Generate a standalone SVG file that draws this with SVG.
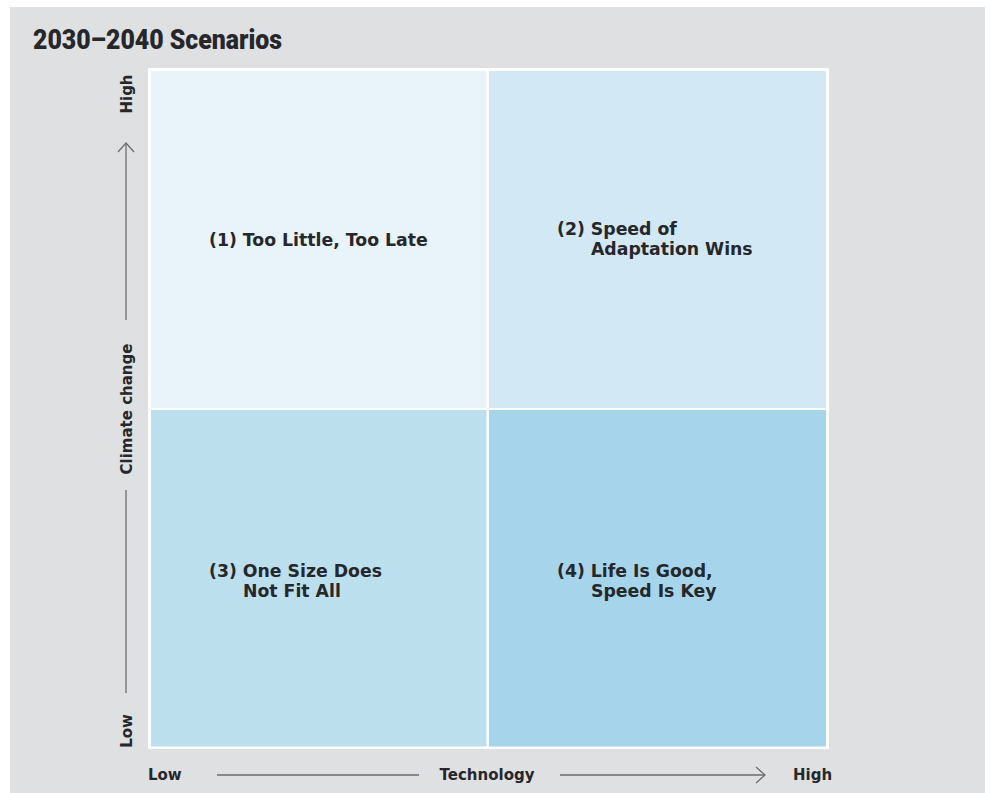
<svg xmlns="http://www.w3.org/2000/svg" width="990" height="793" viewBox="0 0 990 793">
<defs>
<style>
.t{font-family:"DejaVu Sans","Liberation Sans",sans-serif;font-weight:bold;fill:#25272b}
.q{font-size:17.3px}
.ax{font-size:15px}
.ln{stroke:#6b6d70;stroke-width:1.3;fill:none}
</style>
</defs>
<rect x="0" y="0" width="990" height="793" fill="#ffffff"/>
<rect x="10" y="7" width="975" height="786" fill="#dfe0e2"/>
<text x="33" y="49" font-family="Roboto,Liberation Sans,sans-serif" font-weight="900" font-size="27" fill="#25272b" textLength="249" lengthAdjust="spacingAndGlyphs">2030–2040 Scenarios</text>
<rect x="148" y="68" width="681" height="681" fill="#ffffff"/>
<g id="q1">
<rect x="151" y="71" width="335.5" height="337" fill="#e8f3fa"/>
<text class="t q" x="209" y="246">(1) Too Little, Too Late</text>
</g>
<g id="q2">
<rect x="489" y="71" width="337" height="337" fill="#d2e8f4"/>
<text class="t q" x="557" y="235">(2) Speed of</text>
<text class="t q" x="591" y="255">Adaptation Wins</text>
</g>
<g id="q3">
<rect x="151" y="410" width="335.5" height="336.5" fill="#bcdfee"/>
<text class="t q" x="209" y="577">(3) One Size Does</text>
<text class="t q" x="243" y="597">Not Fit All</text>
</g>
<g id="q4">
<rect x="489" y="410" width="337" height="336.5" fill="#a6d4ea"/>
<text class="t q" x="557" y="577">(4) Life Is Good,</text>
<text class="t q" x="591" y="597">Speed Is Key</text>
</g>
<g id="connectors">
<line class="ln" x1="217" y1="775" x2="419" y2="775"/>
<line class="ln" x1="560" y1="775" x2="765" y2="775"/>
<polyline class="ln" points="756,767 765,775 756,783"/>
<line class="ln" x1="126" y1="320" x2="126" y2="143"/>
<polyline class="ln" points="118,152 126,143 134,152"/>
<line class="ln" x1="126" y1="490" x2="126" y2="693"/>
</g>
<g id="x-axis">
<text class="t ax" x="148" y="780">Low</text>
<text class="t ax" x="487" y="780" text-anchor="middle">Technology</text>
<text class="t ax" x="793" y="780">High</text>
</g>
<g id="y-axis">
<text class="t ax" transform="translate(132,94) rotate(-90)" text-anchor="middle">High</text>
<text class="t ax" transform="translate(132,409) rotate(-90)" text-anchor="middle">Climate change</text>
<text class="t ax" transform="translate(132,731) rotate(-90)" text-anchor="middle">Low</text>
</g>
</svg>
